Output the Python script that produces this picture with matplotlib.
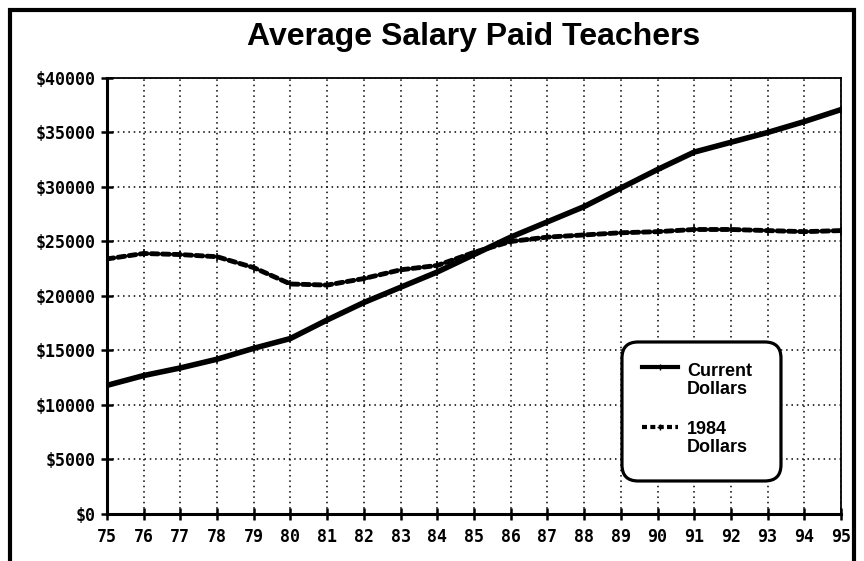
import numpy as np
import matplotlib
matplotlib.use("Agg")
import matplotlib.pyplot as plt
from matplotlib.patches import Rectangle, FancyBboxPatch
from matplotlib.lines import Line2D

years = [75, 76, 77, 78, 79, 80, 81, 82, 83, 84, 85,
         86, 87, 88, 89, 90, 91, 92, 93, 94, 95]
current_dollars = [11800, 12700, 13400, 14200, 15200, 16100, 17800, 19400, 20800, 22200, 23800,
                   25400, 26800, 28200, 29900, 31600, 33200, 34100, 35000, 36000, 37100]
dollars_1984 = [23400, 23900, 23800, 23600, 22600, 21100, 21000, 21600, 22400, 22800, 24000,
                25000, 25400, 25600, 25800, 25900, 26100, 26100, 26000, 25900, 26000]
y_ticks = [0, 5000, 10000, 15000, 20000, 25000, 30000, 35000, 40000]

fig = plt.figure(figsize=(8.64, 5.61), dpi=100)
ax = fig.add_axes([0.1238, 0.0838, 0.8496, 0.7772])

# outer frame of the page
fig.patches.append(Rectangle((0.012, -0.05), 0.976, 1.032, transform=fig.transFigure,
                             fill=False, edgecolor="black", linewidth=3, clip_on=False))

ax.plot(years, current_dollars, color="black", linewidth=4, marker="+",
        markersize=6, markeredgewidth=1.2, solid_capstyle="round")
ax.plot(years, dollars_1984, color="black", linewidth=3.5, marker="+",
        markersize=6, markeredgewidth=1.2, dashes=(1.4, 0.9), dash_capstyle="round")

ax.set_xlim(75, 95)
ax.set_ylim(0, 40000)
ax.set_xticks(years)
ax.set_xticklabels([str(y) for y in years])
ax.set_yticks(y_ticks)
ax.set_yticklabels(["$%d" % v for v in y_ticks])

ax.grid(True, color="black", linestyle=(0, (1, 2.5)), linewidth=1.1)
for side in ["left", "bottom"]:
    ax.spines[side].set_linewidth(2.2)
for side in ["top", "right"]:
    ax.spines[side].set_linewidth(1.3)

ax.tick_params(axis="both", direction="inout", length=8, width=1.8, colors="black")
ax.tick_params(axis="x", pad=6)
ax.tick_params(axis="y", pad=4)
for lab in ax.get_xticklabels() + ax.get_yticklabels():
    lab.set_fontfamily("DejaVu Sans Mono")
    lab.set_fontweight("bold")
    lab.set_fontsize(12)

ax.set_title("Average Salary Paid Teachers", fontfamily="Liberation Sans",
             fontweight="bold", fontsize=23, pad=24)

# legend box, drawn by hand so the handles sit beside the first label line
bx0, by0, bw, bh = 0.7016, 0.0757, 0.2166, 0.3188
asp = ax.bbox.width / ax.bbox.height
box = FancyBboxPatch((bx0, by0), bw, bh, boxstyle="round,pad=0,rounding_size=0.022",
                     mutation_aspect=asp, transform=ax.transAxes, facecolor="white",
                     edgecolor="black", linewidth=2.3, zorder=5, clip_on=False)
ax.add_patch(box)

legend_labels = [("Current", "Dollars"), ("1984", "Dollars")]
legend_styles = [dict(linewidth=3), dict(linewidth=3, dashes=(1.2, 0.8))]
handle_rows = [0.336, 0.199]
text_rows = [(0.3257, 0.2844), (0.1927, 0.1514)]
for (l1, l2), st, hy, (t1, t2) in zip(legend_labels, legend_styles, handle_rows, text_rows):
    ax.add_line(Line2D([0.729, 0.754, 0.778], [hy] * 3, color="black",
                       marker="+", markevery=[1], markersize=5, transform=ax.transAxes,
                       zorder=6, clip_on=False, **st))
    ax.text(0.790, t1, l1, transform=ax.transAxes, va="center", ha="left",
            fontfamily="Liberation Sans", fontweight="bold", fontsize=13, zorder=6)
    ax.text(0.790, t2, l2, transform=ax.transAxes, va="center", ha="left",
            fontfamily="Liberation Sans", fontweight="bold", fontsize=13, zorder=6)

fig.savefig("out.png", dpi=100)
